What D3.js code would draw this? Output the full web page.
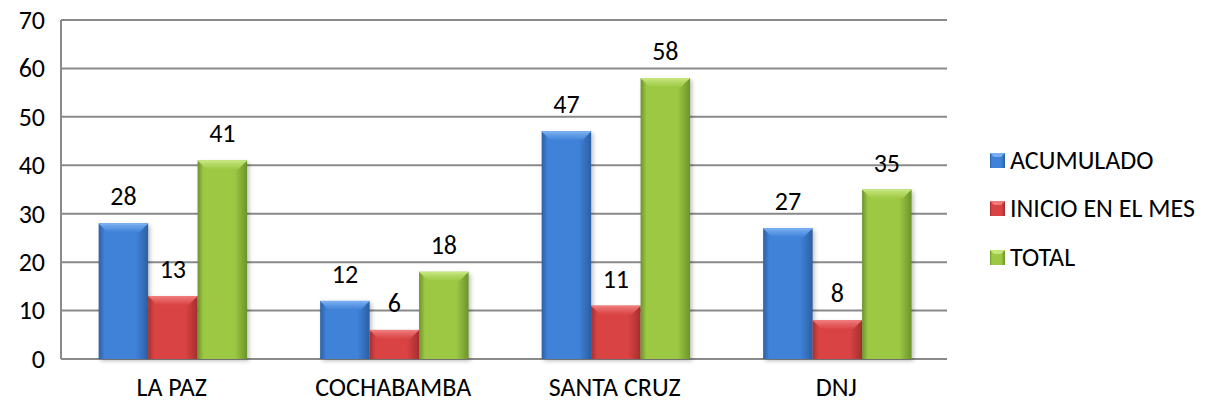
<!DOCTYPE html>
<html>
<head>
<meta charset="utf-8">
<script src="https://cdn.jsdelivr.net/npm/d3@7"></script>
<style>
  body { margin: 0; background: white; }
  text { font-family: Calibri, Carlito, "Open Sans", sans-serif; fill: #000; }
</style>
</head>
<body>
<script>
var categories = ["LA PAZ", "COCHABAMBA", "SANTA CRUZ", "DNJ"]
var seriesNames = ["ACUMULADO", "INICIO EN EL MES", "TOTAL"]
var acumulado = [28, 12, 47, 27]
var inicio = [13, 6, 11, 8]
var total = [41, 18, 58, 35]
var yTicks = [0, 10, 20, 30, 40, 50, 60, 70]

var seriesValues = [acumulado, inicio, total]

// edge, center, bevel-top colours per series
var palette = [
    { id: "blue", edge: "#2c5fa3", mid: "#3f82d8", top: "#79aef0" },
    { id: "red", edge: "#a52f2f", mid: "#d94343", top: "#ee7a7a" },
    { id: "green", edge: "#6b942a", mid: "#9dc843", top: "#c4e67d" }
]

var width = 1209
var height = 406
var plotLeft = 61, plotRight = 947, plotTop = 20, plotBottom = 359
var fontSize = 26

var svg = d3.select("body")
    .append("svg")
    .attr("width", width)
    .attr("height", height)

var defs = svg.append("defs")

palette.forEach(function (p) {
    var g = defs.append("linearGradient")
        .attr("id", "grad-" + p.id)
        .attr("x1", "0").attr("x2", "1").attr("y1", "0").attr("y2", "0")
    g.append("stop").attr("offset", "0%").attr("stop-color", p.edge)
    g.append("stop").attr("offset", "12%").attr("stop-color", p.mid)
    g.append("stop").attr("offset", "75%").attr("stop-color", p.mid)
    g.append("stop").attr("offset", "100%").attr("stop-color", p.edge)

    var t = defs.append("linearGradient")
        .attr("id", "top-" + p.id)
        .attr("x1", "0").attr("x2", "0").attr("y1", "0").attr("y2", "1")
    t.append("stop").attr("offset", "0%").attr("stop-color", p.top)
    t.append("stop").attr("offset", "100%").attr("stop-color", p.mid)
})

var shadow = defs.append("filter").attr("id", "shadow")
    .attr("x", "-20%").attr("y", "-20%").attr("width", "150%").attr("height", "150%")
shadow.append("feGaussianBlur").attr("stdDeviation", 2)

var y = d3.scaleLinear()
    .domain([0, 70])
    .range([plotBottom, plotTop])

var x0 = d3.scaleBand()
    .domain(categories)
    .range([plotLeft, plotRight])

var x1 = d3.scaleBand()
    .domain(d3.range(seriesNames.length))
    .range([x0.bandwidth() * 0.17, x0.bandwidth() * 0.84])

// gridlines
svg.append("g")
    .selectAll("line")
    .data(yTicks)
    .enter()
    .append("line")
    .attr("x1", plotLeft)
    .attr("x2", plotRight)
    .attr("y1", function (d) { return y(d) })
    .attr("y2", function (d) { return y(d) })
    .attr("stroke", "#8a8a8a")
    .attr("stroke-width", 2)

svg.append("line")
    .attr("x1", plotLeft).attr("x2", plotLeft)
    .attr("y1", plotTop).attr("y2", plotBottom)
    .attr("stroke", "#8a8a8a")
    .attr("stroke-width", 2)

// y axis labels
var yAxis = d3.axisLeft(y).tickValues(yTicks).tickSize(0).tickPadding(16)
var yg = svg.append("g")
    .attr("transform", "translate(" + plotLeft + ",0)")
    .call(yAxis)
yg.select(".domain").remove()
yg.selectAll("text")
    .style("font-size", fontSize + "px")
    .attr("fill", "#000")

// x axis labels
var xAxis = d3.axisBottom(x0).tickSize(0).tickPadding(19)
var xg = svg.append("g")
    .attr("transform", "translate(0," + plotBottom + ")")
    .call(xAxis)
xg.select(".domain").remove()
xg.selectAll("text")
    .style("font-size", fontSize + "px")
    .attr("fill", "#000")

var bars = []
categories.forEach(function (c, ci) {
    seriesValues.forEach(function (vals, si) {
        bars.push({ cat: c, series: si, value: vals[ci] })
    })
})

var barGroup = svg.append("g")
    .selectAll("g")
    .data(bars)
    .enter()
    .append("g")
    .attr("transform", function (d) { return "translate(" + (x0(d.cat) + x1(d.series)) + ",0)" })

var bw = x1.bandwidth()

// soft shadow behind bars
barGroup.append("rect")
    .attr("x", 2)
    .attr("y", function (d) { return y(d.value) + 2 })
    .attr("width", bw)
    .attr("height", function (d) { return plotBottom - y(d.value) })
    .attr("fill", "#000")
    .attr("opacity", 0.25)
    .attr("filter", "url(#shadow)")

barGroup.append("rect")
    .attr("x", 0)
    .attr("y", function (d) { return y(d.value) })
    .attr("width", bw)
    .attr("height", function (d) { return plotBottom - y(d.value) })
    .attr("fill", function (d) { return "url(#grad-" + palette[d.series].id + ")" })

// bevel on top
barGroup.append("path")
    .attr("d", function (d) {
        var t = y(d.value)
        var b = 9
        return "M0," + t + "L" + bw + "," + t + "L" + (bw - b) + "," + (t + b) + "L" + b + "," + (t + b) + "Z"
    })
    .attr("fill", function (d) { return "url(#top-" + palette[d.series].id + ")" })

// thin highlight line at top edge
barGroup.append("rect")
    .attr("x", 1)
    .attr("y", function (d) { return y(d.value) })
    .attr("width", bw - 2)
    .attr("height", 1.5)
    .attr("fill", function (d) { return palette[d.series].top })

// data labels
barGroup.append("text")
    .attr("x", bw / 2)
    .attr("y", function (d) { return y(d.value) - 18 })
    .attr("text-anchor", "middle")
    .style("font-size", fontSize + "px")
    .text(function (d) { return d.value })

// legend
var legendY = [160, 208, 257]
var legend = svg.append("g")
    .selectAll("g")
    .data(seriesNames)
    .enter()
    .append("g")
    .attr("transform", function (d, i) { return "translate(990," + legendY[i] + ")" })

legend.append("rect")
    .attr("x", 0).attr("y", -7)
    .attr("width", 15).attr("height", 15)
    .attr("fill", function (d, i) { return "url(#grad-" + palette[i].id + ")" })

legend.append("path")
    .attr("d", "M0,-7L15,-7L11,-3L4,-3Z")
    .attr("fill", function (d, i) { return palette[i].top })

legend.append("text")
    .attr("x", 20)
    .attr("y", 0)
    .attr("dy", "0.35em")
    .style("font-size", fontSize + "px")
    .text(function (d) { return d })
</script>
</body>
</html>
